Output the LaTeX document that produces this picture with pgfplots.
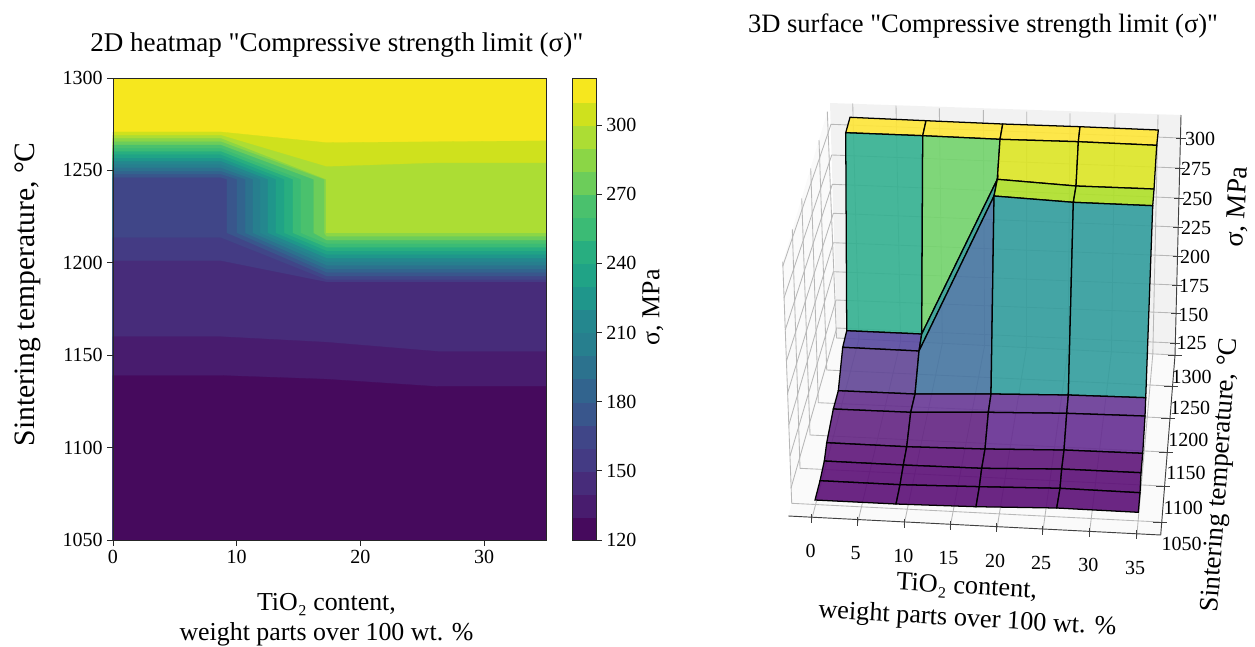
\documentclass[border=0pt]{standalone}
\usepackage{fontspec}
\setmainfont{Liberation Serif}
\newfontfamily\plainq{Liberation Serif}
\newcommand\sq{{\plainq"}}
\usepackage{pgfplots}
\pgfplotsset{compat=1.18}
\definecolor{vir0}{HTML}{460A5D}\definecolor{vir1}{HTML}{481C6E}\definecolor{vir2}{HTML}{472C7A}\definecolor{vir3}{HTML}{443B84}
\definecolor{vir4}{HTML}{404688}\definecolor{vir5}{HTML}{39568C}\definecolor{vir6}{HTML}{32648E}\definecolor{vir7}{HTML}{2C728E}
\definecolor{vir8}{HTML}{277F8E}\definecolor{vir9}{HTML}{24878E}\definecolor{vir10}{HTML}{1F968B}\definecolor{vir11}{HTML}{20A386}
\definecolor{vir12}{HTML}{28AE80}\definecolor{vir13}{HTML}{3BBB75}\definecolor{vir14}{HTML}{4AC16D}\definecolor{vir15}{HTML}{6CCD5A}
\definecolor{vir16}{HTML}{8BD646}\definecolor{vir17}{HTML}{ACDD34}\definecolor{vir18}{HTML}{CFE11D}\definecolor{vir19}{HTML}{F6E71E}
\definecolor{sA}{HTML}{FFE638}\definecolor{sB}{HTML}{34B191}\definecolor{sC}{HTML}{73D46C}\definecolor{sD}{HTML}{DDE625}
\definecolor{sE}{HTML}{56489F}\definecolor{sF}{HTML}{329E91}\definecolor{sG}{HTML}{AFE029}\definecolor{sH}{HTML}{614696}
\definecolor{sI}{HTML}{4675A1}\definecolor{sJ}{HTML}{329D9D}\definecolor{sK}{HTML}{642E8C}\definecolor{sL}{HTML}{683896}
\definecolor{sM}{HTML}{642583}\definecolor{sN}{HTML}{662E92}\definecolor{sO}{HTML}{5F167A}\definecolor{sP}{HTML}{5C0F77}
\newcommand\band[2]{\addplot[fill=vir#1,draw=vir#1,line width=.2pt] coordinates {(0,1050) #2 (35,1050)} --cycle;}
\newcommand\cb[2]{\addplot[fill=vir#1,draw=vir#1,line width=.2pt] coordinates {(0,#2) (1,#2) (1,\the\numexpr#2+10\relax) (0,\the\numexpr#2+10\relax)} --cycle;}
\newcommand\q[2]{\addplot[fill=#1,fill opacity=.9,draw=black,line width=.95pt] coordinates {#2} --cycle;}
\newcommand\gl[1]{\addplot[color=black!28,line width=.65pt] coordinates {#1};}
\newcommand\ax[1]{\addplot[color=black!75,line width=.7pt] coordinates {#1};}
\begin{document}
\begin{tikzpicture}
\path[use as bounding box] (0,0) rectangle (941.25pt,484.5pt);
% ---------- 2D heatmap: contour bands, level boundaries
\begin{axis}[at={(84.75pt,79.5pt)},anchor=south west,scale only axis,width=324.75pt,height=346.5pt,
  xmin=0,xmax=35,ymin=1050,ymax=1300,axis on top,
  xtick={0,10,20,30},ytick={1050,1100,1150,1200,1250,1300},
  tick align=outside,major tick length=4.3pt,tick pos=left,
  /pgf/number format/assume math mode=true,/pgf/number format/1000 sep={},
  tick label style={font=\fontsize{15}{15}\selectfont},
  axis line style={line width=.6pt,color=black!85},
  every tick/.style={line width=.6pt,color=black!85},
  title={2D heatmap \sq Compressive strength limit (σ)\sq},
  title style={at={(axis description cs:0.517,1.055)},anchor=center,yshift=0pt,font=\fontsize{20.3}{20.3}\selectfont},
  xlabel={TiO₂ content,\\weight parts over 100 wt. \%},
  xlabel style={at={(axis description cs:0.493,-0.173)},anchor=center,align=center,font=\fontsize{19.4}{22.5}\selectfont},
  ylabel={Sintering temperature, °C},
  ylabel style={at={(axis description cs:-0.197,0.532)},anchor=center,font=\fontsize{22.2}{22.2}\selectfont},
]
\band{19}{(0,1300)(35,1300)}
\band{18}{(0,1270.8)(8.7,1270.8)(17.25,1265)(26.25,1265.5)(35,1266)}
\band{17}{(0,1269)(8.7,1269)(17.25,1252)(26.25,1254)(35,1254)}
\band{16}{(0,1267.3)(8.7,1267.3)(17.2,1245)(17.2,1216)(17.25,1216)(35,1216)}
\band{15}{(0,1265.5)(8.7,1265.5)(17.06,1245)(17.06,1216)(17.25,1214.1)(35,1214.1)}
\band{14}{(0,1263.7)(8.7,1263.7)(16.19,1245)(16.19,1216)(17.25,1212.1)(35,1212.1)}
\band{13}{(0,1261.9)(8.7,1261.9)(15.17,1245)(15.17,1216)(17.25,1210.2)(35,1210.2)}
\band{12}{(0,1260.2)(8.7,1260.2)(14.52,1245)(14.52,1216)(17.25,1208.2)(35,1208.2)}
\band{11}{(0,1258.4)(8.7,1258.4)(13.82,1245)(13.82,1216)(17.25,1206.3)(35,1206.3)}
\band{10}{(0,1256.6)(8.7,1256.6)(13.15,1245)(13.15,1216)(17.25,1204.3)(35,1204.3)}
\band{9}{(0,1254.9)(8.7,1254.9)(12.5,1245)(12.5,1216)(17.25,1202.4)(35,1202.4)}
\band{8}{(0,1253.1)(8.7,1253.1)(11.88,1245)(11.88,1216)(17.25,1200.4)(35,1200.4)}
\band{7}{(0,1251.3)(8.7,1251.3)(11.29,1245)(11.29,1216)(17.25,1198.5)(35,1198.5)}
\band{6}{(0,1249.5)(8.7,1249.5)(10.67,1245)(10.67,1216)(17.25,1196.5)(35,1196.5)}
\band{5}{(0,1247.8)(8.7,1247.8)(10,1245)(10,1216)(17.25,1194.6)(35,1194.6)}
\band{4}{(0,1246)(8.7,1246)(9.19,1245)(9.19,1216)(17.25,1192.6)(35,1192.6)}
\band{3}{(0,1213.5)(8.7,1213.5)(17.25,1190.7)(35,1190.7)}
\band{2}{(0,1201)(8.7,1201)(17.25,1189.5)(35,1189.5)}
\band{1}{(0,1160)(8.7,1160)(17.25,1157)(26.25,1152)(35,1152)}
\band{0}{(0,1139)(8.7,1139)(17.25,1137)(26.25,1133)(35,1133)}
\end{axis}
% ---------- colour bar
\begin{axis}[at={(429pt,79.5pt)},anchor=south west,scale only axis,width=18pt,height=346.5pt,
  xmin=0,xmax=1,ymin=120,ymax=320.4,axis on top,xtick=\empty,
  ytick={120,150,180,210,240,270,300},ytick pos=right,tick align=outside,major tick length=4.3pt,
  /pgf/number format/assume math mode=true,
  tick label style={font=\fontsize{15}{15}\selectfont},
  axis line style={line width=.6pt,color=black!85},
  every tick/.style={line width=.6pt,color=black!85},
  ylabel={σ, MPa},ylabel near ticks,
  ylabel style={at={(axis description cs:3.375,0.504)},anchor=center,rotate=0,font=\fontsize{19.4}{19.4}\selectfont},
]
\cb{0}{120}\cb{1}{130}\cb{2}{140}\cb{3}{150}\cb{4}{160}\cb{5}{170}\cb{6}{180}\cb{7}{190}\cb{8}{200}\cb{9}{210}
\cb{10}{220}\cb{11}{230}\cb{12}{240}\cb{13}{250}\cb{14}{260}\cb{15}{270}\cb{16}{280}\cb{17}{290}\cb{18}{300}\addplot[fill=vir19,draw=vir19] coordinates {(0,310)(1,310)(1,320.4)(0,320.4)} --cycle;
\end{axis}
% ---------- 3D surface: perspective view, vertices given in projected picture coordinates
\begin{axis}[at={(0pt,0pt)},anchor=south west,scale only axis,width=941.25pt,height=484.5pt,
  xmin=0,xmax=1255,ymin=0,ymax=646,y dir=reverse,hide axis,clip=false]
% panes
\addplot[fill=black!5,draw=none] coordinates {(830,103)(1181,115)(1175,355)(837,338)} --cycle;
\addplot[fill=black!2,draw=none] coordinates {(827.3,111.7)(782.7,262)(791.7,503)(837,338)} --cycle;
\addplot[fill=black!2,draw=none] coordinates {(837,338)(1175,355)(1160.7,535)(788.3,516)} --cycle;
% x grid: back wall then floor
\gl{(852.7,103.3)(858.9,339.1)(811.7,519.3)}
\gl{(896,105.7)(900.6,341.2)(857.7,522.7)}
\gl{(939.3,108.3)(942.3,343.3)(904,525)}
\gl{(983.3,110)(984.6,345.4)(950,527.7)}
\gl{(1026.7,111.7)(1026.4,347.5)(996.7,530)}
\gl{(1070,113.3)(1068.1,349.6)(1042.7,532.3)}
\gl{(1115,114.3)(1111.4,351.8)(1089.3,534.3)}
\gl{(1158,115)(1152.8,353.9)(1136.7,536.7)}
% z grid: left wall then back wall
\gl{(782.8,266)(831,124.3)(1180.7,138)}
\gl{(784,298)(831.7,155)(1180,168)}
\gl{(785.2,330)(832.3,184.3)(1179,198)}
\gl{(786.4,361)(833.3,213.3)(1178,227)}
\gl{(787.6,393)(833.3,242.7)(1177.5,256)}
\gl{(788.8,425)(833.3,271.7)(1177,285)}
\gl{(790,456)(836,300)(1176,313)}
\gl{(791,488)(836.7,328)(1175,343)}
% y grid: left wall then floor
\gl{(827.3,111.7)(836.5,338)(1175,355)}
\gl{(819,140)(826.7,370)(1171,386)}
\gl{(810.7,168.3)(818.3,402.7)(1168,418)}
\gl{(801.7,198.3)(810,435)(1165.5,452)}
\gl{(792.3,229.3)(800,468.3)(1163,486)}
\gl{(782.7,261.7)(791.7,503.3)(1160,522)}
% surface
\q{sA}{(850,117.3)(926,120.7)(922.7,135.7)(845.7,132.7)}
\q{sA}{(926,120.7)(1002.7,124)(1000,139.3)(922.7,135.7)}
\q{sA}{(1002.7,124)(1080,126.7)(1078.3,141.7)(1000,139.3)}
\q{sA}{(1080,126.7)(1158.3,130)(1156.7,145.3)(1078.3,141.7)}
\q{sB}{(845.7,132.7)(922.7,135.7)(921.7,334)(846.7,330.7)}
\q{sC}{(922.7,135.7)(1000,139.3)(997.3,179.3)(921.7,334)}
\q{sD}{(1000,139.3)(1078.3,141.7)(1076,186)(997.3,179.3)}
\q{sD}{(1078.3,141.7)(1156.7,145.3)(1154,189)(1076,186)}
\q{sE}{(846.7,330.7)(921.7,334)(919,351)(842.7,347.3)}
\q{sF}{(921.7,334)(997.3,179.3)(994,196)(919,351)}
\q{sG}{(997.3,179.3)(1076,186)(1073.3,202.3)(994,196)}
\q{sG}{(1076,186)(1154,189)(1152.7,205.7)(1073.3,202.3)}
\q{sH}{(842.7,347.3)(919,351)(915,394)(838.3,390.7)}
\q{sI}{(919,351)(994,196)(991,394)(915,394)}
\q{sJ}{(994,196)(1073.3,202.3)(1068.3,395)(991,394)}
\q{sJ}{(1073.3,202.3)(1152.7,205.7)(1145.7,397.7)(1068.3,395)}
\q{sK}{(838.3,390.7)(915,394)(910.7,412.3)(833.3,409)}
\q{sL}{(915,394)(991,394)(988.3,412.3)(910.7,412.3)}
\q{sL}{(991,394)(1068.3,395)(1066.7,413.3)(988.3,412.3)}
\q{sL}{(1068.3,395)(1145.7,397.7)(1145,416)(1066.7,413.3)}
\q{sM}{(833.3,409)(910.7,412.3)(906.7,446.7)(826.7,442.7)}
\q{sM}{(910.7,412.3)(988.3,412.3)(985,449)(906.7,446.7)}
\q{sN}{(988.3,412.3)(1066.7,413.3)(1064,450)(985,449)}
\q{sN}{(1066.7,413.3)(1145,416)(1142.7,453.3)(1064,450)}
\q{sO}{(826.7,442.7)(906.7,446.7)(903.3,465)(824.3,461)}
\q{sO}{(906.7,446.7)(985,449)(981.7,468.3)(903.3,465)}
\q{sO}{(985,449)(1064,450)(1061.7,469)(981.7,468.3)}
\q{sO}{(1064,450)(1142.7,453.3)(1141,472.7)(1061.7,469)}
\q{sP}{(824.3,461)(903.3,465)(900,484.7)(820,480.7)}
\q{sP}{(903.3,465)(981.7,468.3)(979.3,486.7)(900,484.7)}
\q{sP}{(981.7,468.3)(1061.7,469)(1060,488.3)(979.3,486.7)}
\q{sP}{(1061.7,469)(1141,472.7)(1140,492.7)(1060,488.3)}
\q{sP}{(820,480.7)(900,484.7)(896,504)(815,500)}
\q{sP}{(900,484.7)(979.3,486.7)(976,506.7)(896,504)}
\q{sP}{(979.3,486.7)(1060,488.3)(1056.7,508)(976,506.7)}
\q{sP}{(1060,488.3)(1140,492.7)(1138.3,512.3)(1056.7,508)}
% axis lines and ticks
\ax{(1181,115)(1175,355)}
\ax{(1175,355)(1160.7,535)(788.3,516)}
\ax{(1176,138)(1186,138)}\ax{(1175,168)(1185,168)}\ax{(1174,198)(1184,198)}\ax{(1173,227)(1183,227)}
\ax{(1172.5,256)(1182.5,256)}\ax{(1172,285)(1182,285)}\ax{(1171,313)(1181,313)}\ax{(1170,343)(1180,343)}
\ax{(1168,355)(1182,355)}\ax{(1164,386)(1178,386)}\ax{(1161,418)(1175,418)}\ax{(1158.5,452)(1172.5,452)}\ax{(1156,486)(1170,486)}\ax{(1153,522)(1167,522)}
\ax{(811.7,514)(811.7,523)}\ax{(857.7,516.5)(857.7,525.5)}\ax{(904,518.5)(904,527.5)}\ax{(950,521)(950,530)}
\ax{(996.7,523)(996.7,532)}\ax{(1042.7,525.5)(1042.7,534.5)}\ax{(1089.3,528)(1089.3,537)}\ax{(1136.7,530)(1136.7,539)}
% tick labels
\tikzset{tl/.style={font=\fontsize{15}{15}\selectfont,inner sep=0pt}}
\node[tl] at (axis cs:810.7,551) {0};\node[tl] at (axis cs:855.7,553) {5};\node[tl] at (axis cs:903.3,555.7) {10};\node[tl] at (axis cs:948.3,557.7) {15};
\node[tl] at (axis cs:995,561) {20};\node[tl] at (axis cs:1041,563) {25};\node[tl] at (axis cs:1088.3,565) {30};\node[tl] at (axis cs:1135,567.7) {35};
\node[tl] at (axis cs:1200,139.3) {300};\node[tl] at (axis cs:1196,169.3) {275};\node[tl] at (axis cs:1197.3,199) {250};\node[tl] at (axis cs:1196,227.7) {225};
\node[tl] at (axis cs:1195,256.7) {200};\node[tl] at (axis cs:1194,286) {175};\node[tl] at (axis cs:1193.3,315) {150};\node[tl] at (axis cs:1191.7,343.3) {125};
\node[tl] at (axis cs:1191.7,376.7) {1300};\node[tl] at (axis cs:1190,408.3) {1250};\node[tl] at (axis cs:1188.3,440) {1200};\node[tl] at (axis cs:1186,473.3) {1150};
\node[tl] at (axis cs:1183.3,508.3) {1100};\node[tl] at (axis cs:1181.7,544) {1050};
% titles and labels
\node[font=\fontsize{19.9}{19.9}\selectfont,inner sep=0pt] at (axis cs:983,26) {3D surface \sq Compressive strength limit (σ)\sq};
\node[font=\fontsize{19.7}{19.7}\selectfont,inner sep=0pt,rotate=-3.3] at (axis cs:966.7,588) {TiO₂ content,};
\node[font=\fontsize{19.7}{19.7}\selectfont,inner sep=0pt,rotate=-3.3] at (axis cs:967.3,620) {weight parts over 100 wt. \%};
\node[font=\fontsize{20.6}{20.6}\selectfont,inner sep=0pt,rotate=86] at (axis cs:1238,207) {σ, MPa};
\node[font=\fontsize{20.1}{20.1}\selectfont,inner sep=0pt,rotate=86] at (axis cs:1221,475) {Sintering temperature, °C};
\end{axis}
\end{tikzpicture}
\end{document}
